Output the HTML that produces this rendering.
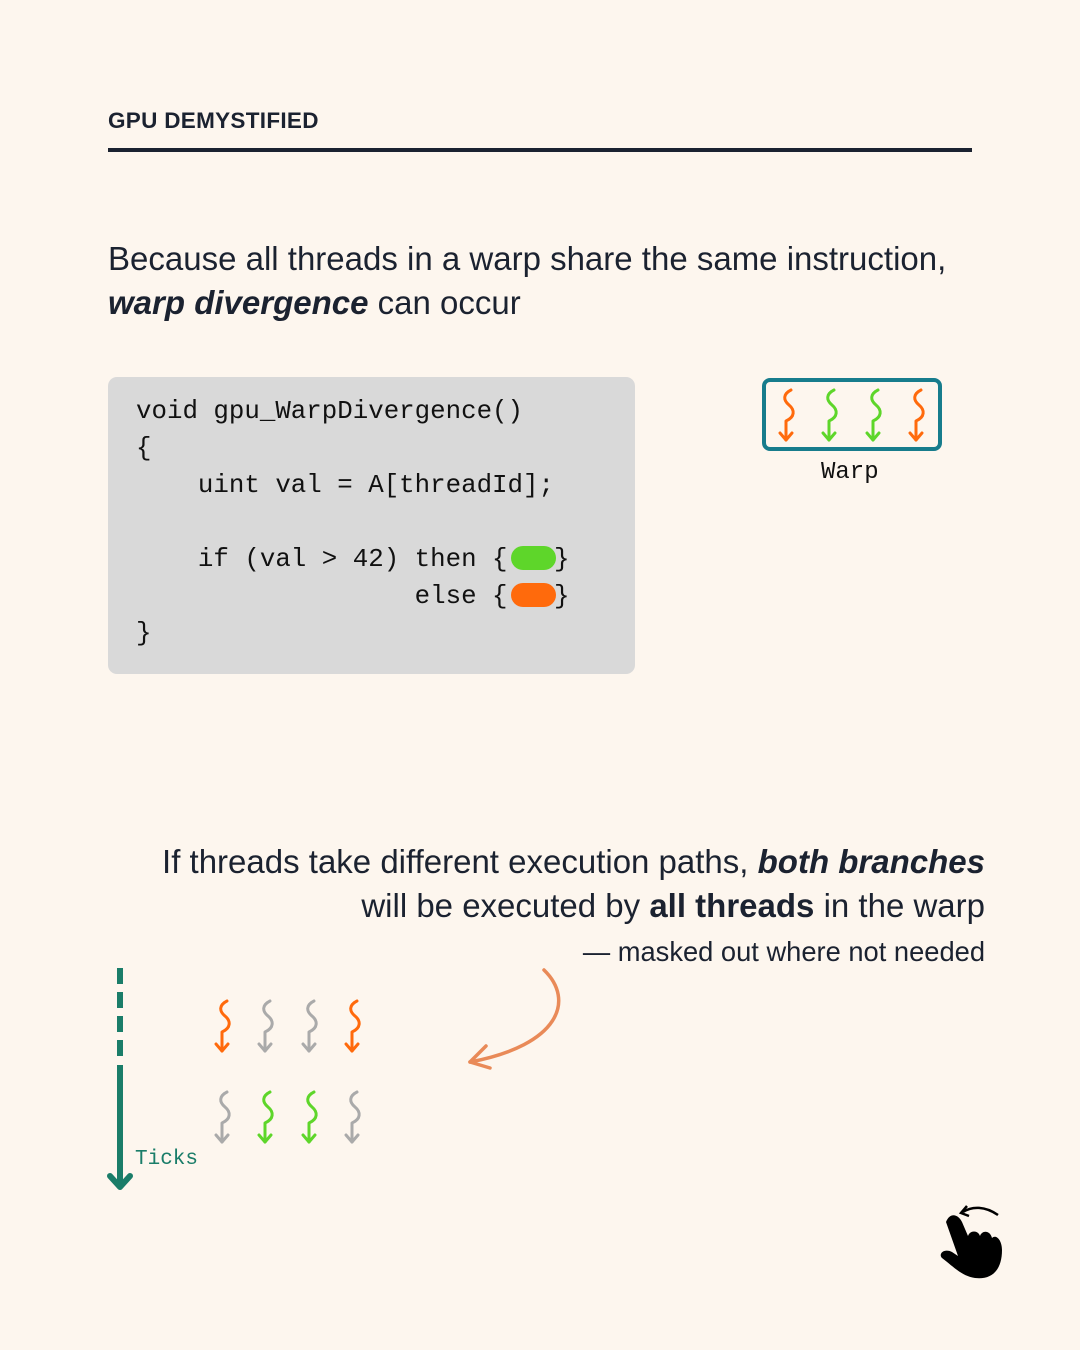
<!DOCTYPE html>
<html><head><style>
body{margin:0;width:1080px;height:1350px;background:#fdf6ee;position:relative;font-family:"Liberation Sans",sans-serif;color:#1b2230;overflow:hidden}
.a{position:absolute;white-space:nowrap}
.code{position:absolute;left:108px;top:377px;width:527px;height:297px;background:#d9d9d9;border-radius:9px}
.mono{font-family:"Liberation Mono",monospace;font-size:25.8px;color:#111}
.pill{position:absolute;width:45px;height:24px;border-radius:12px}
</style></head><body>
<div class="a" style="left:108px;top:108px;font-size:22.5px;font-weight:bold;letter-spacing:0.3px">GPU DEMYSTIFIED</div>
<div class="a" style="left:108px;top:148px;width:864px;height:4px;background:#1b2230"></div>
<div class="a" style="left:108px;top:237px;font-size:33px;line-height:44px">Because all threads in a warp share the same instruction,<br><b><i>warp divergence</i></b> can occur</div>
<div class="code"></div>
<div class="a mono" style="left:136px;top:393px;line-height:37px;white-space:pre">void gpu_WarpDivergence()
{
    uint val = A[threadId];

    if (val &gt; 42) then {   }
                  else {   }
}</div>
<div class="pill" style="left:511px;top:546px;background:#5ed62a"></div>
<div class="pill" style="left:511px;top:583px;background:#ff6a0c"></div>
<div class="a" style="left:762px;top:378px;width:172px;height:65px;border:4px solid #177c8c;border-radius:8px"></div>
<div class="a mono" style="left:821px;top:459px;font-size:24px">Warp</div>
<div class="a" style="right:95px;top:840px;font-size:33px;line-height:44px;text-align:right">If threads take different execution paths, <b><i>both branches</i></b><br>will be executed by <b>all threads</b> in the warp</div>
<div class="a" style="right:95px;top:936px;font-size:27.3px">— masked out where not needed</div>
<div class="a mono" style="left:135px;top:1148px;font-size:21px;color:#1a7d69">Ticks</div>
<svg class="a" style="left:0;top:0" width="1080" height="1350">
<defs>
<g id="t" fill="none" stroke-width="3" stroke-linecap="round" stroke-linejoin="round">
<path d="M7,0 C-1,4 -1,10 5,15 C11,20 11,27 2,31 L2,50"/>
<path d="M-4,43 L2,50 L8,43"/>
</g>
</defs>
<use href="#t" x="784" y="390" stroke="#ff6a0c"/>
<use href="#t" x="827" y="390" stroke="#5ed62a"/>
<use href="#t" x="871" y="390" stroke="#5ed62a"/>
<use href="#t" x="914" y="390" stroke="#ff6a0c"/>
<use href="#t" x="220" y="1001" stroke="#ff6a0c"/>
<use href="#t" x="263" y="1001" stroke="#aaa"/>
<use href="#t" x="307" y="1001" stroke="#aaa"/>
<use href="#t" x="350" y="1001" stroke="#ff6a0c"/>
<use href="#t" x="220" y="1092" stroke="#aaa"/>
<use href="#t" x="263" y="1092" stroke="#5ed62a"/>
<use href="#t" x="307" y="1092" stroke="#5ed62a"/>
<use href="#t" x="350" y="1092" stroke="#aaa"/>
<line x1="120" y1="968" x2="120" y2="1058" stroke="#1a7d69" stroke-width="6" stroke-dasharray="16,8"/>
<line x1="120" y1="1065" x2="120" y2="1186" stroke="#1a7d69" stroke-width="6"/>
<path d="M110,1176 L120,1187 L130,1176" fill="none" stroke="#1a7d69" stroke-width="6" stroke-linecap="round" stroke-linejoin="round"/>
<path d="M544,970 C575,1000 560,1045 470,1062" fill="none" stroke="#e98a58" stroke-width="3.5" stroke-linecap="round"/>
<path d="M486,1046 L470,1062 L490,1068" fill="none" stroke="#e98a58" stroke-width="3.5" stroke-linecap="round" stroke-linejoin="round"/>
<path d="M998,1215 C985,1206 972,1206 963,1212" fill="none" stroke="#000" stroke-width="2.5"/>
<path d="M967,1206 L961,1213 L969,1216" fill="none" stroke="#000" stroke-width="2.5"/>
<path d="M946,1222 C950,1212 958,1214 962,1222 L968,1236 C970,1230 978,1230 980,1236 C982,1230 990,1230 992,1238 C996,1234 1002,1240 1002,1250 C1002,1270 992,1280 975,1278 C962,1276 955,1268 942,1258 C938,1254 944,1248 952,1252 L958,1256 Z" fill="#000"/>
</svg>
</body></html>
